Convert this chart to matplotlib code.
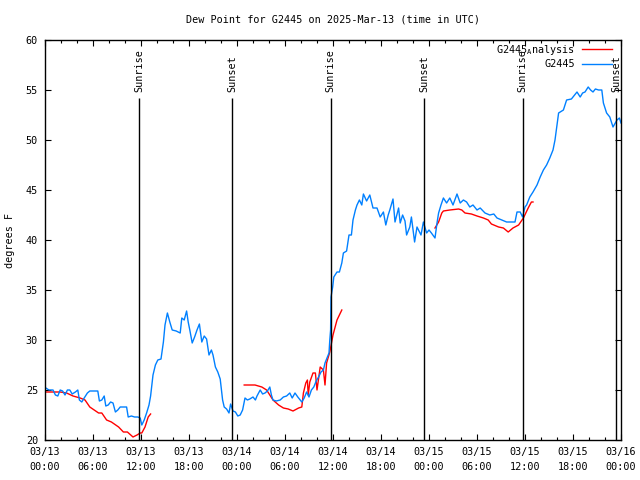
import matplotlib

matplotlib.use("Agg")
import matplotlib.pyplot as plt
import numpy as np

# hours since 2025-03-13 00:00 UTC
obs_hours = [0.1, 0.5, 1.0, 1.3, 1.6, 1.9, 2.2, 2.5, 2.8, 3.1, 3.4, 3.8, 4.1, 4.3, 4.6, 4.9, 5.3, 5.6,
             6.0, 6.6, 6.8, 7.1, 7.4, 7.6, 7.9, 8.2, 8.5, 8.8, 9.1, 9.4, 9.8, 10.2, 10.4, 10.8, 11.2,
             11.6, 11.9, 12.1, 12.4, 12.7, 13.0, 13.2, 13.5, 13.8, 14.1, 14.5, 14.8, 15.0, 15.3, 15.6,
             15.9, 16.4, 16.9, 17.1, 17.4, 17.7, 17.9, 18.1, 18.4, 18.7, 19.0, 19.3, 19.6, 19.9, 20.2,
             20.5, 20.8, 21.0, 21.3, 21.6, 21.9, 22.2, 22.4, 22.7, 23.0, 23.2, 23.5, 23.8, 24.1, 24.4,
             24.7, 25.0, 25.3, 25.6, 26.0, 26.3, 26.5, 26.9, 27.2, 27.5, 27.8, 28.1, 28.3, 28.5, 28.9,
             29.4, 29.8, 30.2, 30.6, 30.9, 31.25, 31.6, 32.1, 32.4, 32.7, 33.0, 33.3, 33.6, 33.9, 34.2,
             34.5, 34.8, 35.0, 35.3, 35.5, 35.6, 35.7, 35.75, 35.96, 36.1, 36.5, 36.8, 37.1, 37.3, 37.7,
             38.0, 38.3, 38.5, 38.8, 39.0, 39.3, 39.6, 39.8, 40.2, 40.6, 41.0, 41.5, 41.9, 42.3, 42.6,
             42.9, 43.1, 43.5, 43.75, 44.2, 44.4, 44.7, 45.0, 45.2, 45.6, 45.8, 46.2, 46.5, 47.0, 47.3,
             47.7, 48.0, 48.3, 48.75, 49.0, 49.2, 49.5, 49.8, 50.2, 50.6, 51.0, 51.5, 51.9, 52.3, 52.7,
             53.1, 53.5, 54.0, 54.4, 55.0, 55.6, 56.1, 56.5, 57.1, 57.7, 58.3, 58.75, 59.0, 59.4, 59.7,
             60.0, 60.2, 60.6, 61.0, 61.5, 61.9, 62.3, 62.7, 63.1, 63.5, 63.75, 64.0, 64.2, 64.8, 65.2,
             65.8, 66.2, 66.5, 66.9, 67.2, 67.5, 67.9, 68.2, 68.5, 68.8, 69.2, 69.6, 69.8, 70.2, 70.6,
             71.0, 71.5, 71.8, 72.0]
obs_dewpt = [25.2, 25.0, 25.0, 24.5, 24.4, 25.0, 24.9, 24.5, 25.0, 25.0, 24.6, 24.8, 25.0, 24.0, 23.8,
             24.2, 24.7, 24.9, 24.9, 24.9, 23.9, 24.0, 24.4, 23.4, 23.5, 23.8, 23.7, 22.8, 23.0, 23.3,
             23.3, 23.3, 22.3, 22.4, 22.3, 22.3, 22.2, 21.5, 22.0, 22.7, 23.5, 24.4, 26.5, 27.5, 28.0,
             28.1, 29.8, 31.5, 32.7, 31.8, 31.0, 30.9, 30.7, 32.2, 32.0, 32.9, 31.8, 31.0, 29.7, 30.3,
             31.0, 31.6, 29.8, 30.4, 30.1, 28.5, 29.0, 28.5, 27.3, 26.8, 26.1, 24.0, 23.3, 23.1, 22.7,
             23.6, 22.9, 22.8, 22.4, 22.5, 23.0, 24.2, 24.0, 24.1, 24.3, 24.0, 24.4, 25.0, 24.6, 24.7,
             24.9, 25.3, 24.5, 24.0, 23.9, 24.0, 24.3, 24.4, 24.7, 24.2, 24.7, 24.3, 23.8, 24.2, 24.8,
             24.3, 25.0, 25.3, 25.9, 26.3, 26.8, 27.0, 27.7, 28.3, 28.7, 30.0, 31.0, 34.3, 35.3, 36.3,
             36.8, 36.8, 37.7, 38.7, 38.9, 40.5, 40.5, 42.0, 43.0, 43.5, 44.0, 43.5, 44.6, 43.9, 44.5,
             43.2, 43.2, 42.3, 42.8, 41.5, 42.5, 43.0, 44.1, 41.8, 43.2, 41.7, 42.5, 41.9, 40.5, 41.3,
             42.3, 39.8, 41.3, 40.5, 41.8, 40.7, 41.0, 40.7, 40.2, 41.7, 42.7, 43.5, 44.2, 43.7, 44.2,
             43.5, 44.6, 43.7, 44.0, 43.8, 43.3, 43.5, 43.0, 43.2, 42.7, 42.5, 42.6, 42.2, 42.0, 41.8,
             41.8, 41.8, 42.8, 42.8, 42.3, 43.3, 43.5, 44.3, 44.8, 45.5, 46.3, 47.0, 47.5, 48.2, 49.0,
             50.0, 51.5, 52.7, 53.0, 54.0, 54.1, 54.5, 54.8, 54.3, 54.7, 54.8, 55.3, 55.0, 54.8, 55.1,
             55.0, 55.0, 53.7, 52.7, 52.3, 51.3, 52.0, 52.2, 51.7]

ana1_hours = [0.2, 1.9, 2.7, 3.5, 4.4, 5.0, 5.6, 6.7, 7.1, 7.7, 8.3, 9.2, 9.8, 10.3, 11.0, 11.5, 11.9,
              12.1, 12.5, 12.9, 13.2]
ana1_dewpt = [24.8, 24.8, 24.7, 24.4, 24.2, 24.0, 23.3, 22.7, 22.7, 22.0, 21.8, 21.3, 20.8, 20.8, 20.3,
              20.5, 20.7, 20.7, 21.3, 22.3, 22.6]
ana2_hours = [24.9, 26.25, 27.1, 27.7, 28.5, 29.2, 29.8, 30.4, 31.0, 31.7, 32.1, 32.3, 32.6, 32.8, 32.9,
              33.1, 33.5, 33.8, 34.0, 34.4, 34.8, 35.0, 35.2, 35.6, 36.0, 36.5, 37.1]
ana2_dewpt = [25.5, 25.5, 25.3, 25.0, 24.0, 23.5, 23.2, 23.1, 22.9, 23.2, 23.3, 24.7, 25.7, 26.0, 24.5,
              25.8, 26.7, 26.7, 25.0, 27.3, 27.0, 25.5, 27.7, 28.8, 30.5, 32.0, 33.0]
ana3_hours = [48.75, 49.2, 49.6, 49.8, 50.6, 51.7, 52.1, 52.5, 53.3, 54.0, 54.8, 55.4, 55.8, 56.7, 57.3,
              57.9, 58.5, 59.2, 59.8, 60.4, 60.8, 61.0]
ana3_dewpt = [41.2, 41.8, 42.7, 42.9, 43.0, 43.1, 43.0, 42.7, 42.6, 42.4, 42.2, 42.0, 41.6, 41.3, 41.2,
              40.8, 41.2, 41.5, 42.2, 43.2, 43.8, 43.8]

sun_hours = [11.8, 23.4, 35.7, 47.4, 59.7, 71.4]
sun_labels = ["Sunrise", "Sunset", "Sunrise", "Sunset", "Sunrise", "Sunset"]

tick_hours = list(range(0, 73, 6))
tick_labels = ["03/13\n00:00", "03/13\n06:00", "03/13\n12:00", "03/13\n18:00",
               "03/14\n00:00", "03/14\n06:00", "03/14\n12:00", "03/14\n18:00",
               "03/15\n00:00", "03/15\n06:00", "03/15\n12:00", "03/15\n18:00",
               "03/16\n00:00"]

plt.rcParams["font.family"] = "DejaVu Sans Mono"
plt.rcParams["font.size"] = 7.3

fig = plt.figure(figsize=(6.4, 4.8), dpi=100)
ax = fig.add_axes([45 / 640, 40 / 480, 576 / 640, 400 / 480])

red = "#ff0000"
blue = "#0080ff"

ax.plot(ana1_hours, ana1_dewpt, color=red, lw=1.0, label=r"G2445$_{\mathtt{A}}$nalysis")
ax.plot(ana2_hours, ana2_dewpt, color=red, lw=1.0)
ax.plot(ana3_hours, ana3_dewpt, color=red, lw=1.0)
ax.plot(obs_hours, obs_dewpt, color=blue, lw=1.0, label="G2445")

for h, lab in zip(sun_hours, sun_labels):
    ax.vlines(h, 20, 54.2, color="black", lw=1.0)
    ax.text(h, 54.8, lab, rotation=90, ha="center", va="bottom")

ax.set_xlim(0, 72)
ax.set_ylim(20, 60)
ax.set_xticks(tick_hours)
ax.set_xticklabels(tick_labels, linespacing=1.6)
ax.set_xticks(np.arange(0, 73, 2), minor=True)
ax.set_yticks(np.arange(20, 61, 5))
ax.tick_params(which="both", direction="in", top=True, right=True, color="black")
ax.tick_params(which="major", length=4, width=0.8, pad=5)
ax.tick_params(which="minor", length=2, width=0.8)
for s in ax.spines.values():
    s.set_linewidth(1.0)

ax.set_ylabel("degrees F")
ax.yaxis.set_label_coords(-30 / 576, 0.5)
fig.text(ax.get_position().x0 + ax.get_position().width / 2, 1 - 19 / 480,
         "Dew Point for G2445 on 2025-Mar-13 (time in UTC)", ha="center", va="center")

ax.legend(loc="upper right", bbox_to_anchor=(0.99, 1.0), frameon=False, markerfirst=False,
          handlelength=3.0, borderaxespad=0.0, borderpad=0.3, labelspacing=0.2,
          handletextpad=0.7)

fig.savefig("out.png", dpi=100)
plt.close(fig)
